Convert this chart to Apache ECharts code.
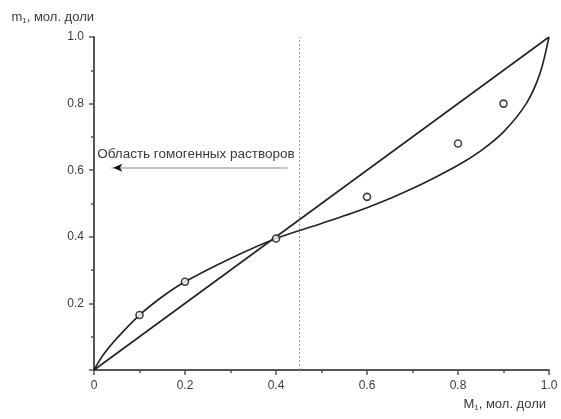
<!DOCTYPE html>
<html><head><meta charset="utf-8">
<script src="https://cdn.jsdelivr.net/npm/echarts@6/dist/echarts.min.js"></script>
<style>html,body{margin:0;padding:0;background:#fff}#c{width:561px;height:419px}</style>
</head><body><div id="c"></div>
<script>
// Curve
const curveX = [0, 0.02, 0.05, 0.1, 0.15, 0.2, 0.3, 0.4, 0.5, 0.6, 0.7, 0.8, 0.85, 0.9, 0.95, 0.98, 1.0];
const curveY = [0, 0.045, 0.095, 0.165, 0.22, 0.265, 0.335, 0.395, 0.44, 0.487, 0.545, 0.615, 0.658, 0.715, 0.80, 0.89, 1.0];
// Diagonal
const diagX = [0, 1];
const diagY = [0, 1];
// Experimental points
const pointX = [0.1, 0.2, 0.4, 0.6, 0.8, 0.9];
const pointY = [0.165, 0.265, 0.395, 0.52, 0.68, 0.80];
// Boundary and annotation
const boundaryX = 0.45;
const annotationText = 'Область гомогенных растворов';
const arrowFrom = [0.425, 0.607];
const arrowTo = [0.038, 0.607];
const annotationPos = [0.224, 0.648];

const font = 'Liberation Sans, Arial, sans-serif';
const txt = '#3a3a3a';
const axisColor = '#555';
const lineColor = '#222';

const chart = echarts.init(document.getElementById('c'));
chart.setOption({
  animation: false,
  backgroundColor: '#fff',
  grid: {left: 94, right: 12, top: 37, bottom: 49},
  xAxis: {
    type: 'value', min: 0, max: 1, interval: 0.2,
    name: '{m|M}{s|1}{m|, мол. доли}',
    nameLocation: 'end', nameGap: -3,
    nameTextStyle: {align: 'right', verticalAlign: 'top', padding: [27, 0, 0, 0],
      rich: {m: {fontSize: 13, color: txt, fontFamily: font}, s: {fontSize: 8, color: txt, fontFamily: font, verticalAlign: 'bottom', padding: [7, 0, 0, 0]}}},
    axisLine: {lineStyle: {color: axisColor, width: 2}},
    axisTick: {length: 5, lineStyle: {color: axisColor, width: 1.5}},
    minorTick: {show: true, splitNumber: 2, length: 3, lineStyle: {color: axisColor, width: 1.5}},
    splitLine: {show: false},
    axisLabel: {margin: 10, fontSize: 12, color: txt, fontFamily: font,
      formatter: v => v === 0 ? '0' : v.toFixed(1)}
  },
  yAxis: {
    type: 'value', min: 0, max: 1, interval: 0.2,
    name: '{m|m}{s|1}{m|, мол. доли}',
    nameLocation: 'end', nameGap: 12,
    nameTextStyle: {align: 'right', padding: [0, 0, 0, 0],
      rich: {m: {fontSize: 13, color: txt, fontFamily: font}, s: {fontSize: 8, color: txt, fontFamily: font, verticalAlign: 'bottom', padding: [7, 0, 0, 0]}}},
    axisLine: {show: true, lineStyle: {color: axisColor, width: 2}},
    axisTick: {show: true, length: 5, lineStyle: {color: axisColor, width: 1.5}},
    minorTick: {show: true, splitNumber: 2, length: 3, lineStyle: {color: axisColor, width: 1.5}},
    splitLine: {show: false},
    axisLabel: {margin: 10, fontSize: 12, color: txt, fontFamily: font,
      formatter: v => v === 0 ? '' : v.toFixed(1)}
  },
  series: [
    {
      type: 'line', data: diagX.map((x, i) => [x, diagY[i]]), showSymbol: false,
      lineStyle: {color: lineColor, width: 1.6}, z: 3,
      markLine: {
        silent: true, symbol: ['none', 'none'], label: {show: false},
        lineStyle: {color: '#999', type: [2, 2], width: 1},
        data: [{xAxis: boundaryX}]
      }
    },
    {
      type: 'line', data: curveX.map((x, i) => [x, curveY[i]]), showSymbol: false,
      smooth: 0.3,
      lineStyle: {color: lineColor, width: 1.6}, z: 3,
      markLine: {
        silent: true, symbol: ['none', 'none'], label: {show: false},
        lineStyle: {color: '#b0b0b0', type: 'solid', width: 1.5},
        data: [[{coord: arrowFrom}, {coord: arrowTo}]]
      },
      markPoint: {
        silent: true,
        data: [
          {coord: arrowTo, symbol: 'arrow', symbolSize: [6, 9], symbolRotate: 90, symbolOffset: [2, 0],
            itemStyle: {color: '#111'}, label: {show: false}},
          {coord: annotationPos, symbol: 'rect', symbolSize: 1, itemStyle: {color: 'rgba(0,0,0,0)'},
            label: {show: true, position: 'inside', formatter: annotationText, fontSize: 13.5, color: txt, fontFamily: font}}
        ]
      }
    },
    {
      type: 'scatter', data: pointX.map((x, i) => [x, pointY[i]]), symbol: 'circle', symbolSize: 7,
      itemStyle: {color: '#fff', borderColor: '#111', borderWidth: 1.6}, z: 5
    }
  ]
});
</script></body></html>
